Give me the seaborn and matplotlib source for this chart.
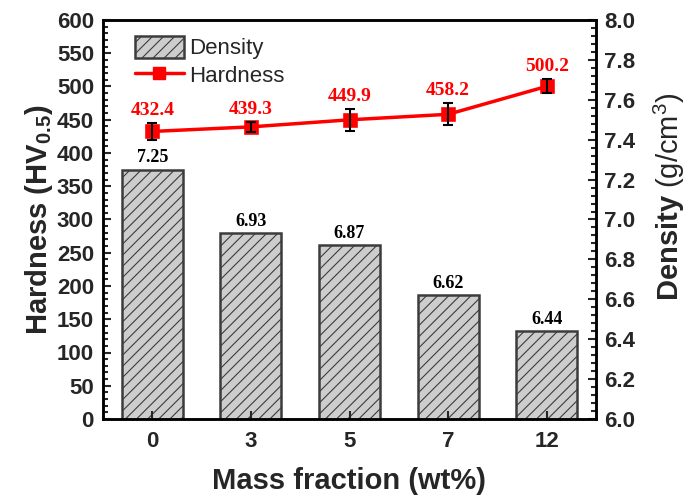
import numpy as np
import pandas as pd
import matplotlib
matplotlib.use('Agg')
import matplotlib.pyplot as plt
import seaborn as sns
from matplotlib.ticker import MultipleLocator, FormatStrFormatter
from matplotlib.patches import Patch
from matplotlib.lines import Line2D

# ---- data ----
mass_fraction = ['0', '3', '5', '7', '12']
density = [7.25, 6.93, 6.87, 6.62, 6.44]
hardness = [432.4, 439.3, 449.9, 458.2, 500.2]
hardness_err = [13.0, 7.5, 16.5, 16.5, 10.5]

sns.set_style('ticks')
plt.rcParams['font.family'] = ['Liberation Sans', 'DejaVu Sans']
plt.rcParams['mathtext.fontset'] = 'custom'
plt.rcParams['mathtext.rm'] = 'Liberation Sans'
plt.rcParams['mathtext.bf'] = 'Liberation Sans:bold'
plt.rcParams['mathtext.it'] = 'Liberation Sans:italic'
plt.rcParams['hatch.color'] = '#606060'
plt.rcParams['hatch.linewidth'] = 0.8

df = pd.DataFrame({'mass': mass_fraction, 'density': density, 'hardness': hardness})

fig = plt.figure(figsize=(6.99, 4.97), dpi=100)
ax = fig.add_axes([103 / 699, 1 - 419 / 497, 493 / 699, 399 / 497])
ax2 = ax.twinx()

# bars: density (right axis)
sns.barplot(data=df, x='mass', y='density', order=mass_fraction, ax=ax2,
            color='#cdcdcd', saturation=1, width=0.62, edgecolor='#3c3c3c',
            linewidth=1.8, hatch='///', errorbar=None)
ax2.bar_label(ax2.containers[0], labels=[f'{d:.2f}' for d in density], padding=2.5,
              fontsize=13, fontweight='bold', family='Liberation Serif', color='black')

# line: hardness (left axis)
sns.pointplot(data=df, x='mass', y='hardness', order=mass_fraction, ax=ax,
              color='red', markers='s', markersize=8.5, linewidth=2.5, errorbar=None)
ax.errorbar(np.arange(len(mass_fraction)), hardness, yerr=hardness_err, fmt='none',
            ecolor='black', elinewidth=1.5, capsize=3.5, capthick=1.5, zorder=5)
for i, (h, e) in enumerate(zip(hardness, hardness_err)):
    ax.annotate(f'{h}', (i, h + e), xytext=(0, 3), textcoords='offset points',
                ha='center', va='bottom', color='red', fontsize=14,
                fontweight='bold', family='Liberation Serif')

ax.set_zorder(ax2.get_zorder() + 1)
ax.patch.set_visible(False)

ax.set_xlim(-0.5, len(mass_fraction) - 0.5)
ax.set_ylim(0, 600)
ax2.set_ylim(6.0, 8.0)
ax.yaxis.set_major_locator(MultipleLocator(50))
ax.yaxis.set_minor_locator(MultipleLocator(10))
ax2.yaxis.set_major_locator(MultipleLocator(0.2))
ax2.yaxis.set_minor_locator(MultipleLocator(0.04))
ax2.yaxis.set_major_formatter(FormatStrFormatter('%.1f'))

ax.tick_params(axis='both', which='both', direction='in', top=False, right=False,
               width=1.5)
ax.tick_params(axis='both', which='major', length=6, labelsize=16)
ax.tick_params(axis='y', which='minor', length=3.5)
ax.tick_params(axis='y', pad=6.5)
ax.tick_params(axis='x', pad=8.5)
ax2.tick_params(axis='y', which='both', direction='in', left=False, right=True,
                width=1.5, pad=6)
ax2.tick_params(axis='y', which='major', length=6, labelsize=16)
ax2.tick_params(axis='y', which='minor', length=3.5)

for lab in ax.get_xticklabels() + ax.get_yticklabels() + ax2.get_yticklabels():
    lab.set_fontweight('bold')

for a in (ax, ax2):
    for s in a.spines.values():
        s.set_linewidth(1.8)
        s.set_color('black')
        s.set_visible(True)

ax.set_xlabel('Mass fraction (wt%)', fontsize=21, fontweight='bold', labelpad=11)
ax.set_ylabel(r'Hardness (HV$_{\mathbf{0.5}}$)', fontsize=21, fontweight='bold', labelpad=1)
ax2.set_ylabel(r'$\mathbf{Density}$ (g/cm$^{3}$)', fontsize=21, fontweight='normal',
               labelpad=12, y=0.556)

handles = [Patch(facecolor='#cdcdcd', edgecolor='#3c3c3c', linewidth=1.8, hatch='///'),
           Line2D([], [], color='red', marker='s', markersize=8.5, linewidth=2.5)]
ax.legend(handles, ['Density', 'Hardness'], loc='upper left',
          bbox_to_anchor=(0.065, 0.96), borderaxespad=0, borderpad=0,
          frameon=False, fontsize=16, handlelength=2.2, handleheight=1.13,
          handletextpad=0.25, labelspacing=0.2)

fig.savefig('out.png', dpi=100)
